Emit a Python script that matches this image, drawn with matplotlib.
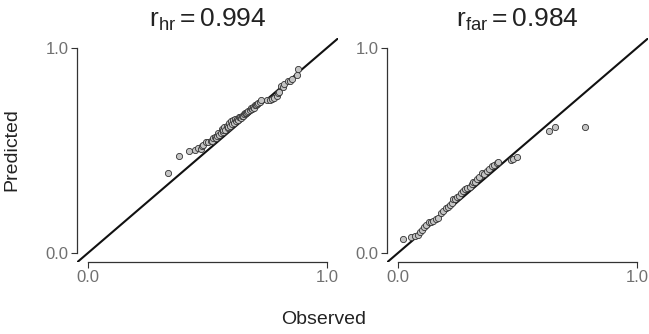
import numpy as np
import matplotlib
matplotlib.use("Agg")
import matplotlib.pyplot as plt

plt.rcParams['font.family'] = ['Liberation Sans', 'DejaVu Sans']
plt.rcParams['mathtext.fontset'] = 'custom'
plt.rcParams['mathtext.rm'] = 'Liberation Sans'
plt.rcParams['mathtext.it'] = 'Liberation Sans'

# hit rate panel
hr_obs = [0.336, 0.379, 0.421, 0.448, 0.462, 0.471, 0.477, 0.483, 0.494, 0.503,
          0.515, 0.520, 0.524, 0.531, 0.536, 0.541, 0.545, 0.550, 0.555, 0.559,
          0.563, 0.566, 0.570, 0.575, 0.580, 0.584, 0.587, 0.591, 0.595, 0.600,
          0.604, 0.608, 0.611, 0.615, 0.620, 0.624, 0.628, 0.633, 0.636, 0.640,
          0.645, 0.649, 0.653, 0.657, 0.662, 0.667, 0.671, 0.676, 0.680, 0.685,
          0.690, 0.695, 0.699, 0.704, 0.708, 0.713, 0.718, 0.722, 0.748, 0.760,
          0.770, 0.780, 0.789, 0.796, 0.801, 0.808, 0.817, 0.822, 0.835, 0.845,
          0.852, 0.873, 0.877]
hr_pred = [0.392, 0.472, 0.499, 0.504, 0.511, 0.509, 0.522, 0.527, 0.541, 0.543,
           0.548, 0.545, 0.559, 0.567, 0.560, 0.572, 0.587, 0.576, 0.585, 0.603,
           0.590, 0.600, 0.613, 0.598, 0.620, 0.607, 0.616, 0.633, 0.618, 0.641,
           0.628, 0.649, 0.635, 0.652, 0.641, 0.655, 0.648, 0.662, 0.665, 0.657,
           0.668, 0.670, 0.678, 0.681, 0.680, 0.688, 0.690, 0.695, 0.706, 0.700,
           0.711, 0.709, 0.722, 0.719, 0.728, 0.730, 0.737, 0.745, 0.746, 0.748,
           0.750, 0.756, 0.766, 0.779, 0.787, 0.812, 0.811, 0.823, 0.839, 0.836,
           0.847, 0.868, 0.899]

# false alarm panel
far_obs = [0.020, 0.053, 0.071, 0.085, 0.092, 0.100, 0.109, 0.118, 0.131, 0.140,
           0.148, 0.160, 0.169, 0.179, 0.190, 0.201, 0.210, 0.218, 0.225, 0.232,
           0.240, 0.246, 0.255, 0.262, 0.270, 0.280, 0.290, 0.301, 0.308, 0.315,
           0.322, 0.329, 0.340, 0.350, 0.360, 0.371, 0.380, 0.392, 0.400, 0.413,
           0.420, 0.471, 0.480, 0.497, 0.632, 0.656, 0.782]
far_pred = [0.068, 0.077, 0.083, 0.090, 0.104, 0.112, 0.128, 0.135, 0.153, 0.150,
            0.156, 0.165, 0.172, 0.197, 0.205, 0.218, 0.225, 0.234, 0.245, 0.262,
            0.263, 0.275, 0.280, 0.291, 0.300, 0.311, 0.318, 0.324, 0.335, 0.348,
            0.345, 0.359, 0.370, 0.389, 0.385, 0.400, 0.410, 0.424, 0.430, 0.440,
            0.445, 0.454, 0.458, 0.470, 0.597, 0.613, 0.616]

titles = [r"$\mathregular{r_{hr} = 0.994}$", r"$\mathregular{r_{far} = 0.984}$"]
panels = [(hr_obs, hr_pred), (far_obs, far_pred)]
ticks = [0.0, 1.0]
tick_labels = ["0.0", "1.0"]

fig = plt.figure(figsize=(6.49, 3.34), dpi=100)
lefts = [77 / 649, 387 / 649]
for i, (obs, pred) in enumerate(panels):
    ax = fig.add_axes([lefts[i], 72 / 334, 261 / 649, 224 / 334])
    ax.set_xlim(-0.046, 1.046)
    ax.set_ylim(-0.044, 1.048)
    ax.plot([-0.1, 1.1], [-0.1, 1.1], color='#111111', lw=1.5, zorder=1)
    ax.scatter(obs, pred, s=20, facecolor='#c4c4c4', edgecolor='#333333',
               linewidth=0.6, zorder=2)
    for side in ['top', 'right']:
        ax.spines[side].set_visible(False)
    for side in ['left', 'bottom']:
        ax.spines[side].set_bounds(0, 1)
        ax.spines[side].set_color('#333333')
        ax.spines[side].set_linewidth(0.9)
    ax.set_xticks(ticks)
    ax.set_xticklabels(tick_labels)
    ax.set_yticks(ticks)
    ax.set_yticklabels(tick_labels)
    ax.tick_params(direction='out', length=4, width=0.8, color='#333333',
                   labelcolor='#707070', labelsize=12, pad=2)
    ax.set_title(titles[i], fontsize=19, color='#222222', pad=8)

fig.text(324 / 649, 1 - 320 / 334, "Observed", ha='center', va='center',
         fontsize=14, color='#222222')
fig.text(12 / 649, 1 - 150 / 334, "Predicted", ha='center', va='center',
         rotation=90, fontsize=14, color='#222222')

fig.savefig("out.png", dpi=100)
